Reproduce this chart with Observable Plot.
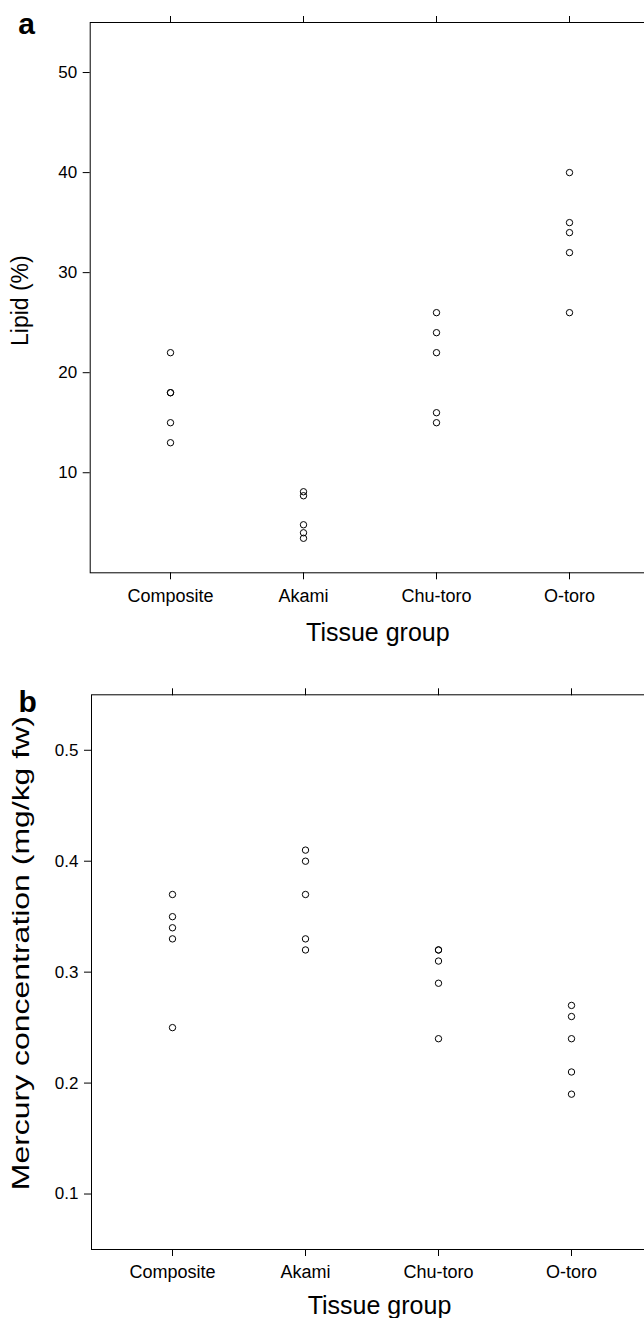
<!DOCTYPE html>
<html>
<head>
<meta charset="utf-8">
<script src="https://cdn.jsdelivr.net/npm/d3@7"></script>
<script src="https://cdn.jsdelivr.net/npm/@observablehq/plot@0.6"></script>
<style>
  html, body { margin: 0; padding: 0; background: white; overflow: hidden; width: 644px; }
  #chart svg { display: block; max-width: none !important; }
</style>
</head>
<body>
<div id="chart"></div>
<script>
const groups = ["Composite", "Akami", "Chu-toro", "O-toro"];

const lipidComposite = [22, 18, 18, 15, 13];
const lipidAkami = [8.1, 7.7, 4.8, 4.0, 3.45];
const lipidChuToro = [26, 24, 22, 16, 15];
const lipidOToro = [40, 35, 34, 32, 26];

const mercuryComposite = [0.37, 0.35, 0.34, 0.33, 0.25];
const mercuryAkami = [0.41, 0.40, 0.37, 0.33, 0.32];
const mercuryChuToro = [0.32, 0.32, 0.31, 0.29, 0.24];
const mercuryOToro = [0.27, 0.26, 0.24, 0.21, 0.19];

const lipidTicks = [10, 20, 30, 40, 50];
const mercuryTicks = [0.1, 0.2, 0.3, 0.4, 0.5];

function toRows(seriesList) {
  const rows = [];
  seriesList.forEach((vals, i) => vals.forEach(v => rows.push({group: groups[i], value: v})));
  return rows;
}
const lipidData = toRows([lipidComposite, lipidAkami, lipidChuToro, lipidOToro]);
const mercuryData = toRows([mercuryComposite, mercuryAkami, mercuryChuToro, mercuryOToro]);

const FONT = "'Liberation Sans', Arial, Helvetica, sans-serif";

function panel(o) {
  const svg = Plot.plot({
    width: 660,
    height: o.height,
    marginTop: o.mt,
    marginBottom: o.mb,
    marginLeft: o.ml,
    marginRight: o.mr,
    style: {fontFamily: FONT, color: "black", background: "white", overflow: "visible"},
    x: {type: "point", domain: groups, padding: 0.6, label: null},
    y: {domain: o.yDomain, label: null},
    marks: [
      Plot.frame({stroke: "black", strokeWidth: 1}),
      Plot.axisY({ticks: o.yTicks, tickSize: 7, tickPadding: 6, fontSize: 17, tickFormat: d => String(d), label: null}),
      Plot.axisX({anchor: "bottom", tickSize: 7, tickPadding: 9, fontSize: 18, label: null}),
      Plot.axisX({anchor: "top", tickSize: 7, tickFormat: () => "", label: null}),
      Plot.dot(o.data, {x: "group", y: "value", r: 3.2, stroke: "black", strokeWidth: 1, fill: "none"}),
      Plot.text([o.yLabel], {text: d => d, frameAnchor: "left", textAnchor: "middle", dx: o.ylx, dy: o.yly, rotate: -90, fontSize: o.ylSize}),
      Plot.text(["Tissue group"], {text: d => d, frameAnchor: "bottom", textAnchor: "middle", dx: 8, dy: o.xly, lineAnchor: "bottom", fontSize: 25}),
      Plot.text([o.letter], {text: d => d, frameAnchor: "top-left", dx: o.lx, dy: o.ly, textAnchor: "start", lineAnchor: "bottom", fontSize: 30, fontWeight: "bold"})
    ]
  });
  if (o.ylLength) {
    svg.querySelectorAll("text").forEach(t => {
      if (t.textContent === o.yLabel) {
        t.setAttribute("textLength", o.ylLength);
        t.setAttribute("lengthAdjust", "spacingAndGlyphs");
      }
    });
  }
  return svg;
}

const a = panel({
  data: lipidData, yDomain: [0, 55], yTicks: lipidTicks, yLabel: "Lipid (%)", letter: "a",
  height: 656, mt: 22, mb: 83.7, ml: 89.7, mr: 11,
  ylx: -70, yly: 3, ylSize: 23, xly: 68, lx: -72, ly: 11
});
const b = panel({
  data: mercuryData, yDomain: [0.05, 0.55], yTicks: mercuryTicks, yLabel: "Mercury concentration (mg/kg fw)", letter: "b",
  height: 662, mt: 38.3, mb: 69, ml: 91, mr: 9,
  ylx: -70, yly: -19, ylSize: 24, ylLength: 474, xly: 64, lx: -73, ly: 17
});
document.getElementById("chart").append(a, b);
</script>
</body>
</html>
